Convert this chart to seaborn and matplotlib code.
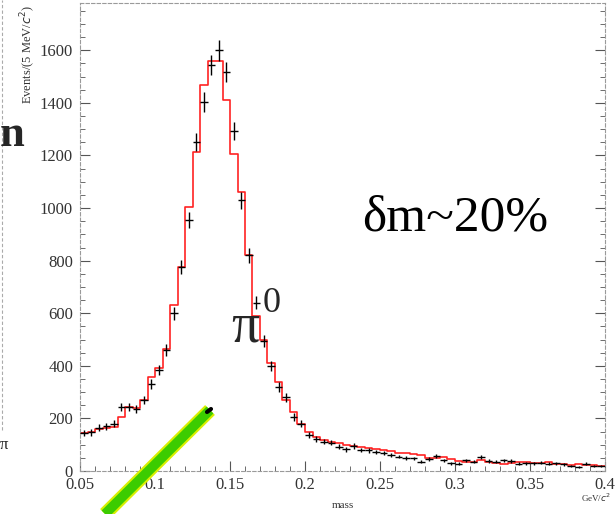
import numpy as np
import pandas as pd
import seaborn as sns
import matplotlib.pyplot as plt
import matplotlib.patheffects as pe
from matplotlib.lines import Line2D
from matplotlib.ticker import MultipleLocator

# histogram: 70 bins of 5 MeV from 0.05 to 0.40 GeV
bin_lo = 0.05
bin_hi = 0.40
n_bins = 70

# red histogram (MC / fit)
hist_vals = [145, 150, 160, 165, 167, 205, 243, 240, 270, 357, 392, 463, 631,
             776, 1004, 1213, 1468, 1559, 1559, 1410, 1205, 1061, 821,
             590, 500, 410, 340, 270, 225, 180, 150, 130, 118,
             110, 105, 100, 95, 92, 88, 85, 80, 75, 70,
             68, 65, 60, 50, 48, 52, 45, 38, 35, 35,
             40, 35, 30, 28, 32, 35, 33, 32, 30, 33,
             28, 25, 22, 25, 22, 22, 20]

# black data points
data_vals = [145, 147, 165, 170, 180, 243, 243, 236, 270, 331, 384, 460, 600,
             776, 954, 1251, 1403, 1544, 1600, 1517, 1293, 1030, 821,
             640, 495, 400, 320, 280, 205, 180, 137, 122, 112,
             108, 92, 82, 95, 80, 78, 72, 68, 60, 55,
             50, 48, 35, 45, 58, 40, 30, 28, 40, 35,
             52, 38, 36, 40, 38, 28, 30, 30, 32, 28,
             30, 25, 18, 15, 28, 20, 20]

x_ticks = [0.05, 0.1, 0.15, 0.2, 0.25, 0.3, 0.35, 0.4]
x_tick_labels = ["0.05", "0.1", "0.15", "0.2", "0.25", "0.3", "0.35", "0.4"]
y_ticks = [0, 200, 400, 600, 800, 1000, 1200, 1400, 1600]

width = (bin_hi - bin_lo) / n_bins
centers = bin_lo + width * (np.arange(n_bins) + 0.5)
df = pd.DataFrame({"mass": centers, "fit": hist_vals, "data": data_vals})

sns.set_style("ticks")
plt.rcParams["font.family"] = ["Liberation Serif", "DejaVu Serif"]

fig = plt.figure(figsize=(6.15, 5.14), dpi=100)
ax = fig.add_axes([80 / 615, 43 / 514, 525 / 615, 468 / 514])

sns.histplot(data=df, x="mass", weights="fit", binwidth=width,
             binrange=(bin_lo, bin_hi), element="step",
             fill=False, color="#ff2222", linewidth=1.2, ax=ax)

ax.errorbar(df["mass"], df["data"], xerr=width / 2, yerr=np.sqrt(df["data"]),
            fmt="none", ecolor="black", elinewidth=1.0, capsize=0, zorder=3)

ax.set_xlim(bin_lo, bin_hi)
ax.set_ylim(0, 1780)
ax.set_xticks(x_ticks)
ax.set_xticklabels(x_tick_labels)
ax.set_yticks(y_ticks)
ax.xaxis.set_minor_locator(MultipleLocator(0.01))
ax.yaxis.set_minor_locator(MultipleLocator(50))
ax.tick_params(which="both", direction="in", right=True, top=False,
               colors="#555555")
ax.tick_params(which="major", length=7, width=0.8)
ax.tick_params(which="minor", length=3.5, width=0.6)
ax.tick_params(axis="y", pad=5)
ax.tick_params(axis="x", pad=4)
for lab in ax.get_xticklabels() + ax.get_yticklabels():
    lab.set_fontsize(12)
    lab.set_color("#333333")
for s in ax.spines.values():
    s.set_color("#9a9a9a")
    s.set_linestyle((0, (3, 2)))
    s.set_linewidth(0.8)
    s.set_visible(True)

ax.set_xlabel("")
ax.set_ylabel("")
fig.text(343 / 615, 1 - 506 / 514, "mass", fontsize=8, color="#333333",
         ha="center", va="center")
fig.text(596 / 615, 1 - 498 / 514, "GeV/$c^2$", fontsize=6.5, color="#333333",
         ha="center", va="center")
fig.text(28 / 615, 1 - 54 / 514, "Events/(5 MeV/$c^2$)", fontsize=9,
         color="#333333", rotation=90, ha="center", va="center")

# slide annotations
ax.text(0.714, 0.54, "δm~20%", transform=ax.transAxes, fontsize=37,
        ha="center", va="center", color="black")
fig.text(245 / 615, 1 - 327 / 514, "π", fontsize=40, ha="center", va="center")
fig.text(272 / 615, 1 - 303 / 514, "0", fontsize=26, ha="center", va="center")
fig.text(0.0, 1 - 135 / 514, "n", fontsize=32, fontweight="bold",
         ha="left", va="center")
fig.text(0.0, 1 - 445 / 514, "π", fontsize=12, ha="left", va="center")
fig.add_artist(Line2D([2 / 615, 2 / 615], [1 - 430 / 514, 1.0],
                      color="#aaaaaa", lw=0.8, ls=(0, (3, 2))))

# green pointer
green = Line2D([105 / 615, 210 / 615], [0.0, 104 / 514], color="#3ccc00",
               lw=7, solid_capstyle="butt",
               path_effects=[pe.Stroke(linewidth=10, foreground="#d8f000"),
                             pe.Normal()])
fig.add_artist(green)
fig.add_artist(Line2D([207 / 615, 211 / 615], [102 / 514, 105 / 514],
                      color="black", lw=3))

fig.savefig("out.png", dpi=100)
